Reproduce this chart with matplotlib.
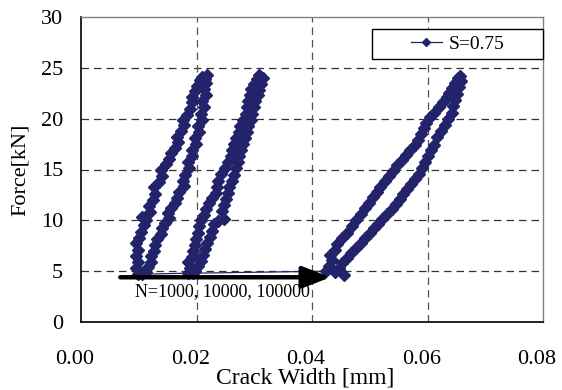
import matplotlib
matplotlib.use("Agg")
import matplotlib.pyplot as plt
import matplotlib.transforms as mtransforms
from matplotlib.patches import Rectangle

# ---- data ----
# cycle N=1000
cw_n1000 = [0.0098, 0.0096, 0.0099, 0.0095, 0.0098, 0.0095, 0.0101, 0.0104, 0.0109, 0.0106,
            0.0113, 0.0119, 0.0117, 0.0125, 0.0129, 0.0127, 0.0135, 0.0140, 0.0139, 0.0148,
            0.0153, 0.0155, 0.0163, 0.0168, 0.0166, 0.0174, 0.0178, 0.0177, 0.0184, 0.0188,
            0.0193, 0.0192, 0.0198, 0.0201, 0.0206, 0.0210, 0.0215, 0.0219,
            0.0216, 0.0213, 0.0217, 0.0210, 0.0213, 0.0207, 0.0209, 0.0202, 0.0204, 0.0197,
            0.0199, 0.0192, 0.0193, 0.0186, 0.0187, 0.0180, 0.0176, 0.0178, 0.0170, 0.0166,
            0.0163, 0.0156, 0.0151, 0.0153, 0.0145, 0.0140, 0.0138, 0.0132, 0.0129, 0.0126,
            0.0121, 0.0122, 0.0116, 0.0112, 0.0106]
f_n1000 = [4.7, 5.3, 5.9, 6.5, 7.1, 7.8, 8.3, 8.9, 9.5, 10.3,
           10.0, 10.8, 11.4, 12.0, 12.6, 13.3, 13.8, 14.4, 15.0, 15.5,
           16.0, 16.6, 17.1, 17.7, 18.2, 18.8, 19.4, 19.9, 20.4, 21.0,
           21.6, 22.1, 22.7, 23.2, 23.8, 24.1, 23.9, 24.3,
           23.5, 22.9, 22.3, 21.7, 21.1, 20.5, 19.9, 19.3, 18.7, 18.1,
           17.5, 16.9, 16.3, 15.7, 15.1, 14.5, 13.9, 13.4, 12.8, 12.2,
           11.7, 11.2, 10.7, 10.2, 9.7, 9.2, 8.7, 8.2, 7.6, 7.0,
           6.5, 5.9, 5.4, 4.9, 4.7]

# cycle N=10000
cw_n10000 = [0.0185, 0.0188, 0.0186, 0.0192, 0.0194, 0.0197, 0.0199, 0.0203, 0.0205, 0.0208,
             0.0213, 0.0217, 0.0221, 0.0227, 0.0233, 0.0236, 0.0238, 0.0242, 0.0249, 0.0254,
             0.0259, 0.0262, 0.0265, 0.0269, 0.0273, 0.0276, 0.0281, 0.0285, 0.0288, 0.0290,
             0.0292, 0.0294, 0.0299, 0.0304, 0.0309, 0.0315,
             0.0312, 0.0308, 0.0306, 0.0302, 0.0300, 0.0296, 0.0294, 0.0290, 0.0287, 0.0284,
             0.0280, 0.0277, 0.0274, 0.0271, 0.0268, 0.0265, 0.0261, 0.0257, 0.0254, 0.0251,
             0.0248, 0.0245, 0.0247, 0.0238, 0.0230, 0.0227, 0.0223, 0.0219, 0.0215, 0.0212,
             0.0207, 0.0203, 0.0198, 0.0194]
f_n10000 = [4.8, 5.3, 5.9, 6.4, 7.0, 7.6, 8.2, 8.8, 9.4, 10.0,
            10.5, 11.1, 11.7, 12.2, 12.7, 13.3, 13.9, 14.6, 15.1, 15.7,
            16.3, 16.9, 17.5, 18.1, 18.7, 19.3, 19.9, 20.5, 21.1, 21.7,
            22.3, 22.9, 23.4, 23.9, 24.3, 24.0,
            23.4, 22.8, 22.3, 21.7, 21.1, 20.5, 19.9, 19.3, 18.7, 18.1,
            17.5, 16.9, 16.3, 15.7, 15.1, 14.5, 13.9, 13.3, 12.7, 12.1,
            11.5, 10.9, 10.1, 9.9, 9.6, 9.0, 8.4, 7.8, 7.2, 6.6,
            6.0, 5.5, 5.0, 4.8]

# cycle N=100000
cw_n100000 = [0.0425, 0.0430, 0.0435, 0.0432, 0.0440, 0.0444, 0.0452, 0.0461, 0.0469, 0.0476,
              0.0484, 0.0491, 0.0498, 0.0505, 0.0512, 0.0518, 0.0526, 0.0533, 0.0540, 0.0548,
              0.0556, 0.0562, 0.0570, 0.0578, 0.0583, 0.0588, 0.0594, 0.0598, 0.0604, 0.0612,
              0.0620, 0.0627, 0.0633, 0.0638, 0.0643, 0.0648, 0.0653, 0.0656,
              0.0658, 0.0655, 0.0651, 0.0648, 0.0645, 0.0643, 0.0636, 0.0630, 0.0624, 0.0617,
              0.0612, 0.0606, 0.0600, 0.0596, 0.0590, 0.0586, 0.0579, 0.0571, 0.0565, 0.0558,
              0.0552, 0.0545, 0.0538, 0.0530, 0.0522, 0.0514, 0.0507, 0.0500, 0.0492, 0.0484,
              0.0476, 0.0468, 0.0461, 0.0452, 0.0446, 0.0440, 0.0456]
f_n100000 = [5.0, 5.5, 6.1, 6.6, 7.1, 7.7, 8.3, 8.8, 9.4, 10.0,
             10.6, 11.2, 11.7, 12.3, 12.8, 13.3, 13.9, 14.4, 14.9, 15.4,
             15.9, 16.4, 16.9, 17.4, 17.9, 18.5, 19.1, 19.6, 20.2, 20.6,
             21.1, 21.6, 22.1, 22.5, 23.0, 23.5, 24.0, 24.2,
             23.7, 23.1, 22.4, 21.8, 21.2, 20.6, 20.0, 19.4, 18.8, 18.2,
             17.4, 16.9, 16.3, 15.7, 15.1, 14.6, 14.1, 13.6, 13.1, 12.6,
             12.1, 11.6, 11.1, 10.6, 10.1, 9.6, 9.2, 8.8, 8.3, 7.8,
             7.3, 6.8, 6.3, 5.8, 5.3, 4.9, 4.6]

series_label = "S=0.75"
annotation_text = "N=1000, 10000, 100000"
x_ticks = [0.00, 0.02, 0.04, 0.06, 0.08]
x_tick_labels = ["0.00", "0.02", "0.04", "0.06", "0.08"]
y_ticks = [0, 5, 10, 15, 20, 25, 30]
arrow_start = (0.0068, 4.4)
arrow_end = (0.0432, 4.4)

# ---- figure ----
plt.rcParams['font.family'] = ['Liberation Serif', 'DejaVu Serif']
fig = plt.figure(figsize=(5.62, 3.90), dpi=100)
ax = fig.add_axes([81 / 562, 1 - 322 / 390, 462 / 562, 305 / 390])

navy = '#23236B'
xs = cw_n1000 + cw_n10000 + cw_n100000
ys = f_n1000 + f_n10000 + f_n100000
ax.plot(xs, ys, color=navy, lw=0.9, marker='D', markersize=5.8,
        markerfacecolor=navy, markeredgecolor=navy, label=series_label, zorder=3)

ax.set_xlim(0, 0.08)
ax.set_ylim(0, 30)
ax.set_xticks(x_ticks)
ax.set_xticklabels(x_tick_labels)
ax.set_yticks(y_ticks)
ax.tick_params(length=0, labelsize=16)
ax.tick_params(axis='y', pad=13)
ax.tick_params(axis='x', pad=20)
offset = mtransforms.ScaledTranslation(-6 / 100, 0, fig.dpi_scale_trans)
for lab in ax.get_xticklabels():
    lab.set_transform(lab.get_transform() + offset)

# grid
for yv in y_ticks[1:-1]:
    ax.axhline(yv, color='#333333', lw=0.9, ls=(0, (6, 4)), zorder=1)
for xv in x_ticks[1:-1]:
    ax.axvline(xv, color='#555555', lw=0.9, ls=(0, (6, 4)), zorder=1)

for s in ['left', 'bottom']:
    ax.spines[s].set_color('black')
    ax.spines[s].set_linewidth(1.2)
for s in ['top', 'right']:
    ax.spines[s].set_color('#808080')
    ax.spines[s].set_linewidth(1.0)

ax.set_xlabel("Crack Width [mm]", fontsize=17)
ax.set_ylabel("Force[kN]", fontsize=16)
ax.xaxis.set_label_coords((305 - 81) / 462, (322 - 378) / 305)
ax.yaxis.set_label_coords((20 - 81) / 462, 0.5)
ax.xaxis.label.set_va('center')
ax.yaxis.label.set_va('center')

# arrow + annotation
ax.annotate("", xy=arrow_end, xytext=arrow_start,
            arrowprops=dict(arrowstyle='-|>,head_length=0.85,head_width=0.33',
                            color='black', lw=3.2, mutation_scale=20,
                            shrinkA=0, shrinkB=0), zorder=4)
ax.text(0.0093, 3.0, annotation_text, fontsize=13, ha='left', va='center', zorder=4)

# legend box
rect = Rectangle((372 / 562, 1 - 59 / 390), 171 / 562, 30 / 390,
                 transform=fig.transFigure, facecolor='white', edgecolor='black',
                 lw=1.0, zorder=4.5, clip_on=False)
ax.add_artist(rect)
leg = ax.legend(loc='center', bbox_to_anchor=(457.5 / 562, 1 - 44 / 390),
                bbox_transform=fig.transFigure, frameon=False, fontsize=14,
                handlelength=1.6, handletextpad=0.35, borderpad=0.2, markerscale=0.7)
leg.set_zorder(6)

fig.savefig("out.png", dpi=100)
